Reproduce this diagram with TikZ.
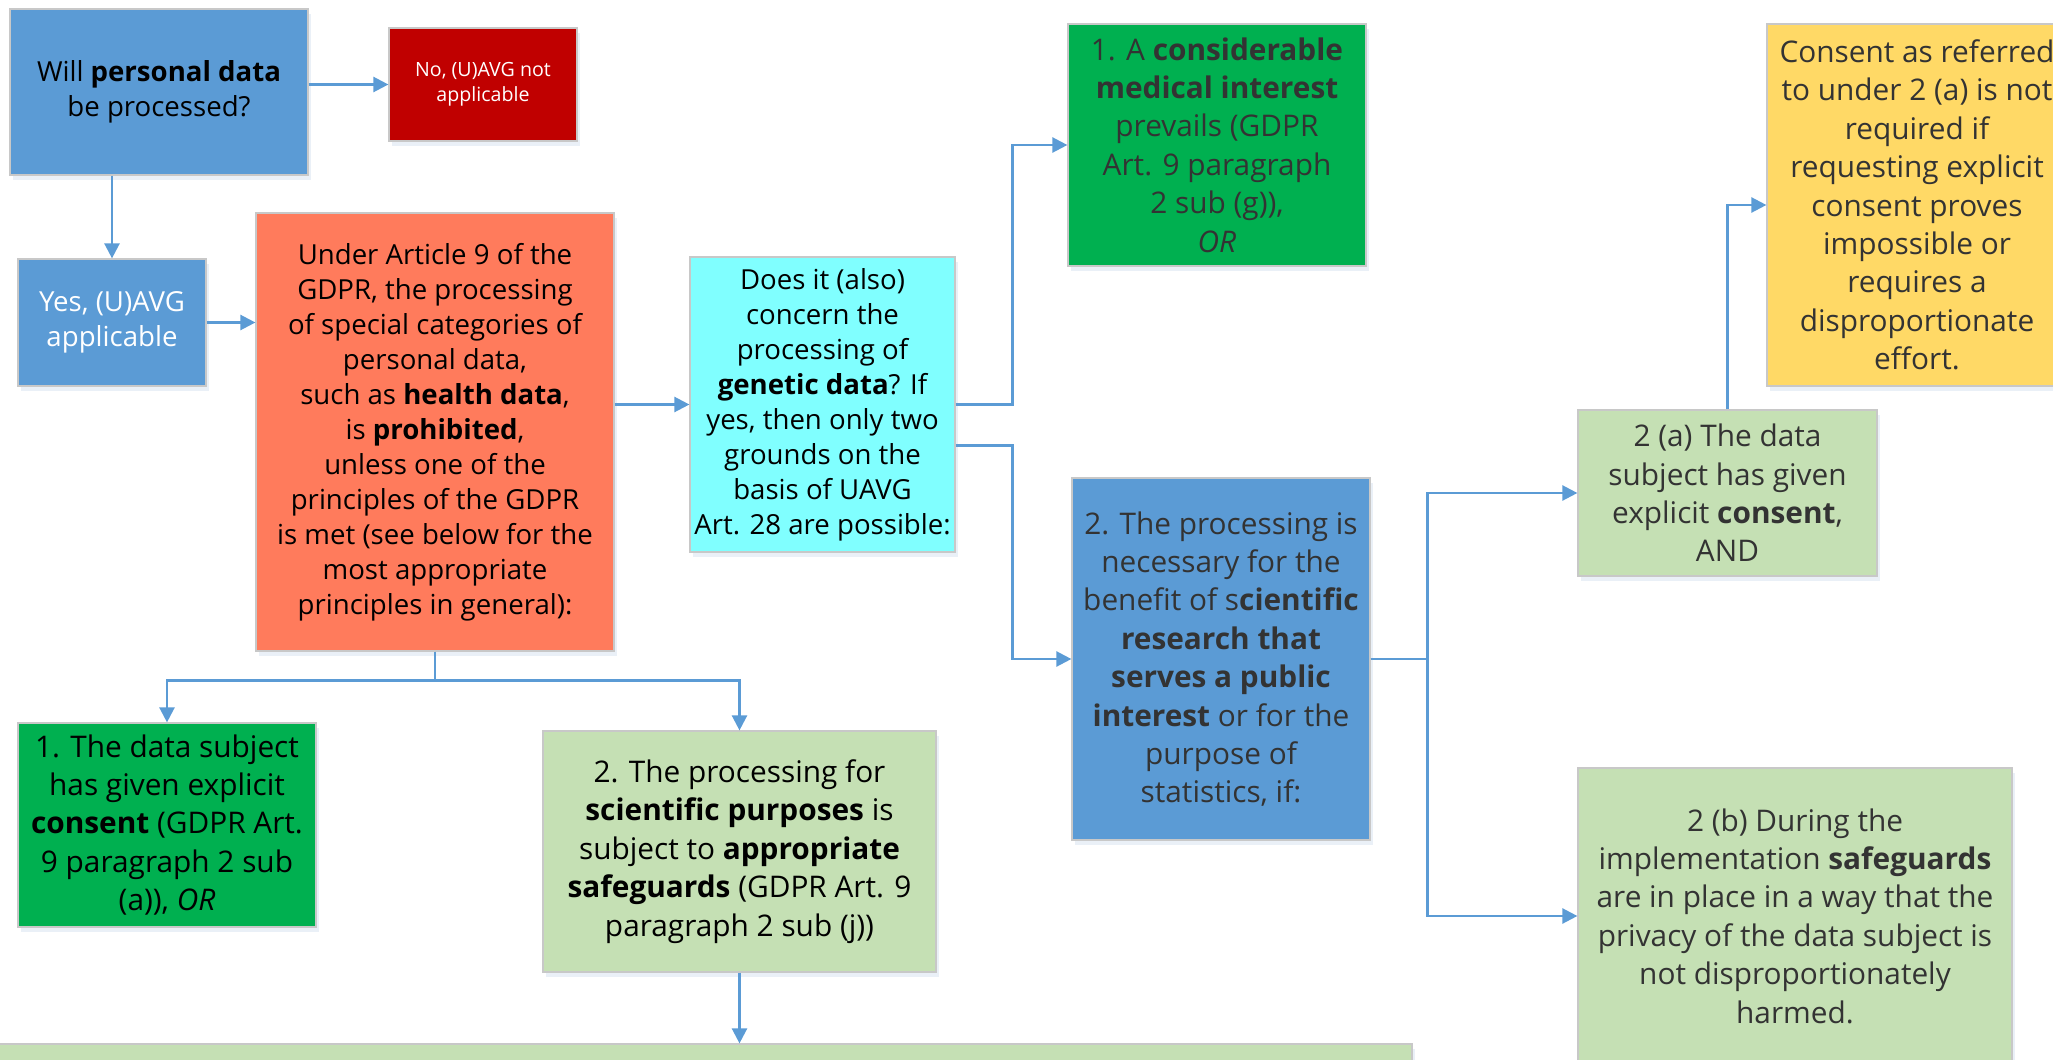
\documentclass[tikz,border=0pt]{standalone}
\usepackage{fontspec}
\setmainfont{Open Sans}
\usetikzlibrary{shapes,shapes.geometric,calc,arrows.meta,shadows}

\definecolor{flowblue}{HTML}{5B9BD5}
\definecolor{stopred}{HTML}{C00000}
\definecolor{rulecoral}{HTML}{FF7B5C}
\definecolor{askcyan}{HTML}{80FFFF}
\definecolor{groundgreen}{HTML}{00B050}
\definecolor{palegreen}{HTML}{C5E0B4}
\definecolor{noteyellow}{HTML}{FFD966}
\definecolor{boxline}{HTML}{C8C8C8}
\definecolor{boxshade}{HTML}{DCE6F2}
\definecolor{greytext}{HTML}{333333}

\newcommand{\midtxt}{\fontsize{13.8}{17.5}\selectfont}
\newcommand{\bigtxt}{\fontsize{14.9}{19.2}\selectfont}
\newcommand{\smalltxt}{\fontsize{9.8}{12.5}\selectfont}

\begin{document}
\begin{tikzpicture}
	[x=0.5pt,y=-0.5pt,
	every node/.style={shape=rectangle,draw=boxline,line width=0.6pt,
	  align=center,inner sep=0pt,
	  drop shadow={shadow xshift=1.5pt,shadow yshift=-2.5pt,fill=boxshade,opacity=0.6}},
	arrow/.style={-{Triangle[length=7.5pt,width=7.5pt]},draw=flowblue,line width=1.2pt}]
	\useasboundingbox (0,0) rectangle (2053,1060);
	%% first question
	\node[fill=flowblue,minimum width=149pt,minimum height=83pt,font=\midtxt]
	  (q1) at (159,92) {Will \textbf{personal data}\\be processed?};
	\node[fill=stopred,text=white,minimum width=94pt,minimum height=56.5pt,font=\smalltxt]
	  (no) at (483,84.5) {No, (U)AVG not\\applicable};
	\node[fill=flowblue,text=white,minimum width=94pt,minimum height=63.5pt,font=\midtxt]
	  (yes) at (112,322.5) {Yes, (U)AVG\\applicable};
	%% article 9
	\node[fill=rulecoral,minimum width=179pt,minimum height=219pt,font=\midtxt]
	  (prohib) at (435,432) {Under Article 9 of the\\GDPR, the processing\\of special categories of\\personal data,\\such as \textbf{health data},\\is \textbf{prohibited},\\unless one of the\\principles of the GDPR\\is met (see below for the\\most appropriate\\principles in general):};
	\node[fill=askcyan,minimum width=132.5pt,minimum height=147.5pt,font=\midtxt]
	  (genetic) at (822.5,404.5) {Does it (also)\\concern the\\processing of\\\textbf{genetic data}? If\\yes, then only two\\grounds on the\\basis of UAVG\\Art. 28 are possible:};
	%% genetic data grounds
	\node[fill=groundgreen,text=greytext,minimum width=149pt,minimum height=121pt,font=\bigtxt]
	  (medical) at (1217,145) {1. A \textbf{considerable}\\\textbf{medical interest}\\prevails (GDPR\\Art. 9 paragraph\\2 sub (g)),\\\textit{OR}};
	\node[fill=flowblue,text=greytext,minimum width=149pt,minimum height=181pt,font=\bigtxt]
	  (research) at (1221,659) {2. The processing is\\necessary for the\\benefit of s\textbf{cientific}\\\textbf{research that}\\\textbf{serves a public}\\\textbf{interest} or for the\\purpose of\\statistics, if:};
	\node[fill=palegreen,text=greytext,minimum width=149.5pt,minimum height=83pt,font=\bigtxt]
	  (consA) at (1727.5,493) {2 (a) The data\\subject has given\\explicit \textbf{consent},\\AND};
	\node[fill=noteyellow,text=greytext,minimum width=150pt,minimum height=181pt,font=\bigtxt]
	  (exempt) at (1917,205) {Consent as referred\\to under 2 (a) is not\\required if\\requesting explicit\\consent proves\\impossible or\\requires a\\disproportionate\\effort.};
	\node[fill=palegreen,text=greytext,minimum width=217pt,minimum height=148pt,font=\bigtxt]
	  (safeB) at (1795,916) {2 (b) During the\\implementation \textbf{safeguards}\\are in place in a way that the\\privacy of the data subject is\\not disproportionately\\harmed.};
	%% general grounds
	\node[fill=groundgreen,minimum width=149pt,minimum height=102pt,font=\bigtxt]
	  (consent1) at (167,825) {1. The data subject\\has given explicit\\\textbf{consent} (GDPR Art.\\9 paragraph 2 sub\\(a)), \textit{OR}};
	\node[fill=palegreen,minimum width=196.5pt,minimum height=120.5pt,font=\bigtxt]
	  (sciPurp) at (739.5,851.5) {2. The processing for\\\textbf{scientific purposes} is\\subject to \textbf{appropriate}\\\textbf{safeguards} (GDPR Art. 9\\paragraph 2 sub (j))};
	\node[fill=palegreen,minimum width=711pt,minimum height=38pt]
	  (below) at (701,1082) {};
	%%
	\draw[arrow] (q1.east |- no.west) -- (no.west);
	\draw[arrow] (yes.north |- q1.south) -- (yes.north);
	\draw[arrow] (yes.east) -- (yes.east -| prohib.west);
	\draw[arrow] (prohib.east |- genetic.west) -- (genetic.west);
	\draw[arrow] (genetic.east) -- ++(57,0) |- (medical.west);
	\draw[arrow] ([yshift=-20.5pt]genetic.east) -- ++(57,0) |- (research.west);
	\path
	\foreach \startNode/\endNode in {research/consA,research/safeB}
	{
	  (\startNode.east) edge[arrow,to path={-- ++(57,0) |- (\tikztotarget)}] (\endNode.west)
	};
	\draw[arrow] (consA.north) |- (exempt.west);
	\draw[arrow] (prohib.south) -- ++(0,29) -| (consent1.north);
	\draw[arrow] (prohib.south) -- ++(0,29) -| (sciPurp.north);
	\draw[arrow] (sciPurp.south) -- (sciPurp.south |- below.north);
\end{tikzpicture}
\end{document}
